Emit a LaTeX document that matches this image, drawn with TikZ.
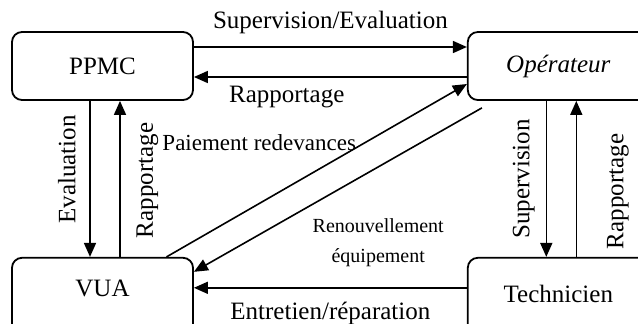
\documentclass[tikz,border=0pt]{standalone}
\usepackage{fontspec}
\setmainfont{Liberation Serif}
\usetikzlibrary{positioning}
\usetikzlibrary{arrows.meta}

\begin{document}
\begin{tikzpicture}
      [x=0.5pt, y=-0.5pt, font=\fontsize{12.5}{15}\selectfont,
       agent/.style={draw, rounded corners=5pt, line width=0.9pt,
                     minimum width=90.5pt, minimum height=34pt},
       lowbox/.style={minimum height=40pt},
       flow/.style={line width=0.8pt, -{Triangle[length=7pt,width=6pt]}}]
    \useasboundingbox (0,0) rectangle (638,323);
    \node[agent]  (ppmc)  at (102.5,66) {PPMC};
    \node[agent]  (oper)  [right=136.5pt of ppmc] {\itshape Opérateur};
    \node[agent,lowbox,text depth=10pt]  (vua)  [below=78pt of ppmc] {VUA};
    \node[agent,lowbox,text depth=4pt]  (tech)  [below=78pt of oper] {Technicien};

    \draw[flow] ([yshift=9.5pt]ppmc.east) -- node[above,inner ysep=6.4pt] {Supervision/Evaluation} ([yshift=9.5pt]oper.west);
    \draw[flow] ([yshift=-5.5pt]oper.west) -- node[pos=0.66,below,inner ysep=4.4pt] {Rapportage} ([yshift=-5.5pt]ppmc.east);
    \draw[flow] ([xshift=-6.25pt]ppmc.south) -- node[pos=0.44,rotate=90,above,inner ysep=6.75pt] {Evaluation} ([xshift=-6.25pt]vua.north);
    \draw[flow] ([xshift=8.75pt]vua.north) -- node[pos=0.49,rotate=90,below,inner ysep=7.9pt] {Rapportage} ([xshift=8.75pt]ppmc.south);
    \draw[flow] ([xshift=32pt]vua.north) -- node[pos=0.66,left,inner xsep=4pt,font=\fontsize{11.5}{14}\selectfont] {Paiement redevances} ([yshift=-9pt]oper.west);
    \draw[flow] ([xshift=7.5pt,yshift=-3.5pt]oper.south west) -- node[pos=0.36,yshift=-38pt,align=center,font=\fontsize{10}{15}\selectfont] {Renouvellement\\équipement} ([yshift=13pt]vua.east);
    \draw[flow] ([yshift=5pt]tech.west) -- node[below,inner ysep=6.8pt] {Entretien/réparation} ([yshift=5pt]vua.east);
    \draw[flow] ([xshift=-6pt]oper.south) -- node[rotate=90,above,inner ysep=5.4pt] {Supervision} ([xshift=-6pt]tech.north);
    \draw[flow] ([xshift=9pt]tech.north) -- node[pos=0.42,rotate=90,below,inner ysep=14.9pt] {Rapportage} ([xshift=9pt]oper.south);
\end{tikzpicture}
\end{document}
